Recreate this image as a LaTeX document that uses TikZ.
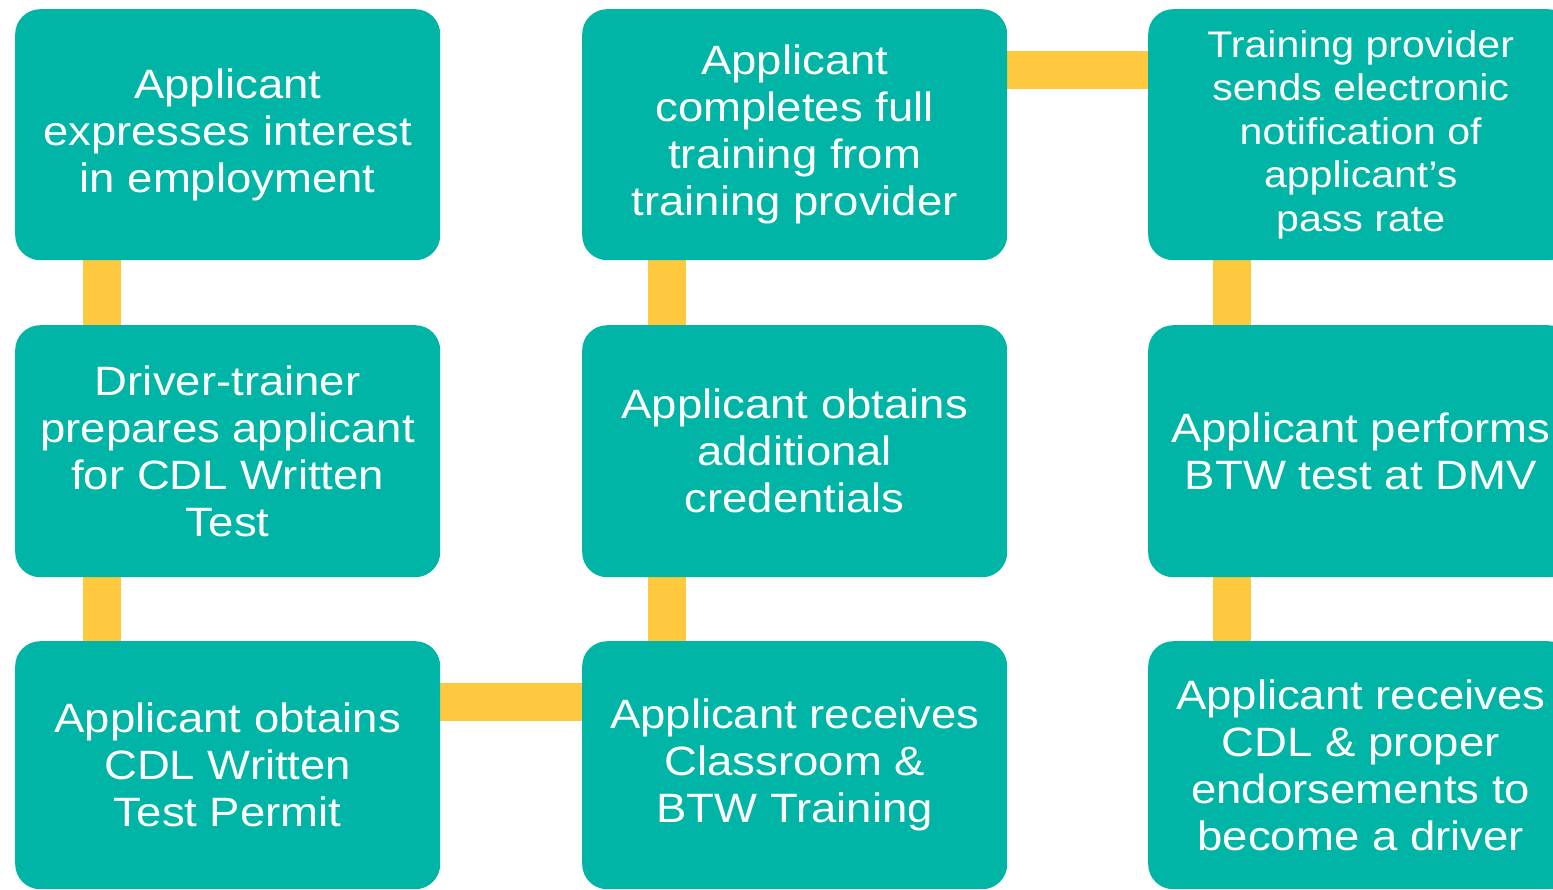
\documentclass[tikz,border=0pt]{standalone}
\usepackage{fontspec}
\setmainfont{Liberation Sans}[FakeStretch=1.11]
\usetikzlibrary{backgrounds}
\definecolor{boxteal}{RGB}{0,181,166}
\definecolor{connyellow}{RGB}{254,201,63}
\tikzset{
  box/.style={rectangle, rounded corners=25pt, fill=boxteal, text=white,
    align=center, inner sep=0pt, minimum width=425pt, anchor=north west,
    font=\fontsize{41}{47}\selectfont},
  conn/.style={connyellow, line width=38pt},
}
\begin{document}
\begin{tikzpicture}[x=1pt,y=-1pt]
\useasboundingbox (0,0) rectangle (1553,889);
\clip (0,0) rectangle (1553,889);
% column 1
\node[box, minimum height=251pt] (a1) at (15,9) {Applicant\\expresses interest\\in employment};
\node[box, minimum height=252pt] (a2) at (15,325) {Driver-trainer\\prepares applicant\\for CDL Written\\Test};
\node[box, minimum height=248pt] (a3) at (15,641) {Applicant obtains\\CDL Written\\Test Permit};
% column 2
\node[box, minimum height=251pt] (b1) at (582,9) {Applicant\\completes full\\training from\\training provider};
\node[box, minimum height=252pt] (b2) at (582,325) {Applicant obtains\\additional\\credentials};
\node[box, minimum height=248pt] (b3) at (582,641) {Applicant receives\\Classroom \&\\BTW Training};
% column 3
\node[box, minimum height=251pt, font=\fontsize{37}{43.5}\selectfont] (c1) at (1148,9) {Training provider\\sends electronic\\notification of\\applicant’s\\pass rate};
\node[box, minimum height=252pt] (c2) at (1148,325) {Applicant performs\\BTW test at DMV};
\node[box, minimum height=248pt] (c3) at (1148,641) {Applicant receives\\CDL \& proper\\endorsements to\\become a driver};
% connectors
\begin{scope}[on background layer]
\draw[conn] ([xshift=87pt]a1.south west) -- ([xshift=87pt]a2.north west);
\draw[conn] ([xshift=87pt]a2.south west) -- ([xshift=87pt]a3.north west);
\draw[conn] ([yshift=-61pt]a3.north east) -- ([yshift=-61pt]b3.north west);
\draw[conn] ([xshift=85pt]b3.north west) -- ([xshift=85pt]b2.south west);
\draw[conn] ([xshift=85pt]b2.north west) -- ([xshift=85pt]b1.south west);
\draw[conn] ([yshift=-61pt]b1.north east) -- ([yshift=-61pt]c1.north west);
\draw[conn] ([xshift=84pt]c1.south west) -- ([xshift=84pt]c2.north west);
\draw[conn] ([xshift=84pt]c2.south west) -- ([xshift=84pt]c3.north west);
\end{scope}
\end{tikzpicture}
\end{document}
